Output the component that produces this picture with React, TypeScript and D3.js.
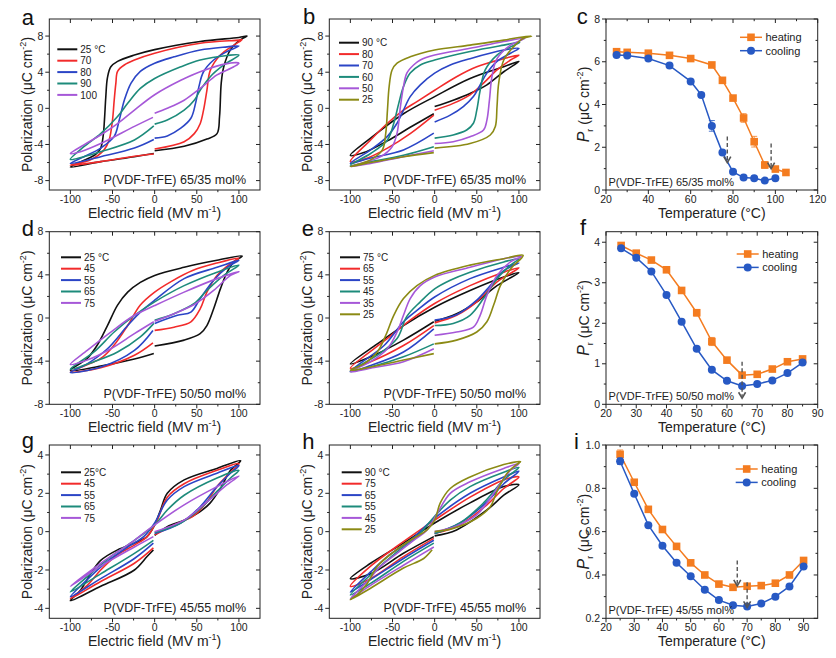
import React, { useEffect, useRef } from 'react';
import * as d3 from 'd3';

type Pt = [number, number];

// ---------------- data ----------------
const loopPalette = ['#111111', '#f22b2b', '#2b45c6', '#1d8b7b', '#a658d8', '#8b8a14'];
const heatColor = '#f47c20';
const coolColor = '#2759c4';

const fieldTicks = [-100, -50, 0, 50, 100];
const fieldMinor = [-75, -25, 25, 75];

// panel a: P(VDF-TrFE) 65/35, heating series
const aLabels = ['25 °C', '70', '80', '90', '100'];
const aLoops: Pt[][] = [
  [[0,-4.7],[35,-4.2],[62,-3.4],[74,-2.8],[77,-0.9],[79,2.8],[82,4.6],[90,6.5],[102,7.6],[109.7,8.0],[100,7.85],[54,7.4],[0,6.5],[-24,5.9],[-44,5.2],[-52,4.6],[-56,3.4],[-58,1.2],[-59.5,-1.2],[-61,-3.0],[-64,-4.4],[-70,-5.1],[-85,-5.8],[-100,-6.5],[-64,-5.9],[-24,-5.35],[-1,-5.0]],
  [[0,-4.5],[35,-3.7],[47,-2.8],[54,-1.7],[58,-0.2],[62,2.0],[66,4.2],[78,5.9],[94,7.0],[103.7,7.6],[100,7.55],[54,7.2],[0,6.1],[-24,5.35],[-36,4.8],[-44,4.1],[-46,2.8],[-48,0.9],[-50,-1.3],[-54,-3.5],[-60,-4.6],[-76,-5.7],[-100,-6.3],[-64,-5.9],[-24,-5.3],[-1,-5.05]],
  [[0,-3.3],[15,-3.05],[31,-2.2],[43,-1.1],[48.5,0.55],[52.5,2.4],[58,4.05],[70,5.35],[86,6.3],[100,6.9],[86,6.8],[54,6.45],[23,5.7],[0,5.0],[-17,4.1],[-28,2.8],[-36,0.9],[-42,-1.3],[-48,-3.1],[-64,-4.4],[-84,-5.35],[-100,-6.1],[-64,-5.35],[-24,-4.4],[-1,-3.45]],
  [[0,-1.75],[15,-1.3],[35,-0.2],[47,0.9],[54,2.0],[66,3.5],[82,4.8],[100,5.9],[86,5.85],[54,5.35],[31,4.6],[0,3.3],[-17,2.2],[-32,0.55],[-44,-0.9],[-64,-2.8],[-84,-4.25],[-100,-5.65],[-84,-5.35],[-64,-4.8],[-24,-3.5],[-1,-1.95]],
  [[0,-0.55],[15,0],[35,0.9],[54,2.2],[74,3.7],[94,4.6],[100,5.0],[86,4.95],[54,4.05],[31,3.1],[0,1.5],[-24,-0.2],[-44,-1.7],[-64,-2.95],[-84,-4.05],[-100,-5.0],[-88,-4.8],[-64,-3.9],[-24,-2.0],[-2,-1.0]],
];

// panel b: 65/35, cooling series
const bLabels = ['90 °C', '80', '70', '60', '50', '25'];
const bLoops: Pt[][] = [
  [[0,0.2],[22,0.9],[42,1.65],[62,2.6],[82,4.05],[100,5.2],[82,4.6],[42,3.3],[0,1.3],[-37,-0.6],[-76,-3.3],[-100,-5.2],[-84,-4.9],[-56,-3.6],[-29,-2.1],[-1,-0.6]],
  [[0,-0.2],[22,0.55],[42,1.5],[58,2.8],[74,4.25],[90,5.35],[100,5.9],[82,5.5],[50,4.6],[26,3.5],[0,2.0],[-21,0.75],[-37,-0.2],[-56,-1.65],[-76,-3.5],[-100,-5.9],[-84,-5.65],[-56,-4.4],[-29,-2.8],[-1,-0.75]],
  [[0,-1.5],[18.5,-0.75],[34,0.2],[46,1.3],[54,2.6],[62,3.9],[74,5.2],[90,6.1],[100,6.65],[82,6.45],[42,5.5],[18.5,4.8],[0,3.9],[-17,2.6],[-29,1.3],[-37,-0.2],[-44.6,-1.65],[-56,-3.1],[-76,-4.6],[-100,-6.1],[-76,-5.5],[-37,-4.6],[-1,-2.75]],
  [[0,-3.3],[22,-2.95],[38,-2.4],[46,-1.65],[50,-0.2],[54,2.0],[60,4.25],[74,5.9],[90,6.8],[101,7.3],[82,7.0],[42,6.3],[0,5.35],[-17,4.8],[-29,3.9],[-37,2.4],[-42.6,0.55],[-48.5,-1.65],[-56,-3.5],[-76,-5.0],[-100,-6.3],[-76,-5.9],[-37,-5.2],[-1,-4.25]],
  [[0,-3.9],[22,-3.7],[42,-3.15],[58,-2.4],[62,-1.3],[65,0.9],[68,3.5],[74,5.5],[90,7.0],[107,7.75],[82,7.4],[42,6.65],[0,5.9],[-17,5.35],[-25,4.8],[-33,3.9],[-37,2.4],[-40.6,0.2],[-44.6,-2.75],[-50.5,-4.25],[-64,-5.35],[-100,-6.45],[-76,-6.1],[-37,-5.35],[-1,-4.7]],
  [[0,-4.4],[42,-3.9],[66,-2.95],[72,-2.0],[74,0.2],[76,2.8],[82,5.35],[93.5,6.8],[105,7.75],[115,8.0],[100,7.85],[82,7.55],[42,7.0],[0,6.45],[-29,5.7],[-44.6,5.0],[-50.5,4.25],[-54,2.4],[-56,-0.2],[-58,-2.75],[-62,-4.6],[-76,-5.7],[-100,-6.45],[-76,-6.0],[-37,-5.35],[-1,-4.9]],
];

// panel d: 50/50, heating
const dLabels = ['25 °C', '45', '55', '65', '75'];
const dLoops: Pt[][] = [
  [[0,-2.6],[35,-2.05],[54,-1.45],[62,-0.7],[70,0.85],[78,2.7],[86,4.25],[94,5.2],[104,5.75],[74,5.35],[35,4.7],[0,3.95],[-17,3.3],[-32,2.4],[-44,1.2],[-56,-0.7],[-68,-2.5],[-80,-3.75],[-100,-4.85],[-64,-4.45],[-24,-3.8],[-1,-3.3]],
  [[0,-1.15],[23,-0.85],[43,-0.35],[54,0.85],[62,2.4],[74,3.95],[90,5.05],[100,5.55],[74,5.1],[45,4.4],[20,3.4],[0,2.4],[-17,1.2],[-32,-0.7],[-48,-2.5],[-64,-3.75],[-100,-5.0],[-64,-4.6],[-24,-3.45],[-2,-2.3]],
  [[0,-0.5],[27,0.25],[43,0.55],[54,1.8],[70,3.5],[86,4.7],[100,5.35],[74,4.7],[35,3.65],[0,1.65],[-17,0.55],[-32,-0.7],[-56,-2.85],[-80,-4.25],[-100,-5.05],[-64,-4.55],[-24,-3.0],[-2,-1.15]],
  [[0,-0.2],[23,0.4],[47,1.35],[62,2.55],[82,3.95],[100,4.9],[74,4.25],[35,3.0],[0,1.5],[-24,0.25],[-48,-1.3],[-72,-3.15],[-100,-4.75],[-72,-4.05],[-44,-3.15],[-17,-1.75],[-1,-0.5]],
  [[0,-0.3],[23,0.4],[47,1.25],[70,2.55],[90,3.95],[100,4.3],[74,3.65],[35,2.4],[0,1.15],[-24,0.25],[-52,-1.3],[-80,-3.0],[-100,-4.3],[-80,-3.9],[-52,-2.85],[-24,-1.45],[-1,-0.35]],
];

// panel e: 50/50, cooling
const eLabels = ['75 °C', '65', '55', '45', '35', '25'];
const eLoops: Pt[][] = [
  [[0,-0.3],[26,0.4],[50,1.5],[74,3.0],[100,4.2],[82,3.8],[42,2.55],[0,1.0],[-37,-0.7],[-68,-2.4],[-100,-4.25],[-76,-3.6],[-37,-2.05],[-1,-0.35]],
  [[0,-0.45],[26,0.25],[50,1.5],[74,3.35],[100,4.65],[82,4.25],[42,3.0],[0,1.35],[-29,-0.2],[-56,-1.9],[-100,-4.65],[-76,-4.05],[-37,-2.55],[-1,-0.7]],
  [[0,-0.2],[26,0.3],[50,1.65],[66,3.0],[82,4.4],[100,5.1],[82,4.7],[42,3.65],[0,1.95],[-21,0.7],[-37,-0.35],[-60,-2.55],[-100,-4.95],[-76,-4.4],[-37,-3.15],[-1,-1.0]],
  [[0,-0.7],[22,-0.5],[42,0.25],[58,1.8],[74,3.65],[90,4.9],[100,5.5],[82,5.2],[42,4.25],[18.5,3.5],[0,2.7],[-17,1.5],[-33,0.15],[-44.6,-1.9],[-68,-3.45],[-100,-4.95],[-76,-4.55],[-37,-3.6],[-1,-2.4]],
  [[0,-1.6],[26,-1.3],[46,-0.85],[54,0.25],[62,2.1],[74,3.95],[90,5.2],[103,5.7],[82,5.5],[42,4.7],[0,3.8],[-17,3.0],[-29,1.8],[-37,0.25],[-44.6,-1.3],[-56,-2.85],[-76,-4.05],[-100,-5.0],[-76,-4.65],[-37,-4.05],[-1,-2.85]],
  [[0,-2.4],[26,-2.05],[50,-1.3],[62,-0.35],[70,1.2],[78,3.0],[90,4.55],[105,5.8],[82,5.5],[42,4.9],[0,3.95],[-21,3.0],[-37,1.8],[-48.5,0.25],[-58,-1.6],[-68,-3.15],[-84,-4.25],[-100,-4.85],[-76,-4.55],[-37,-3.9],[-1,-3.3]],
];

// panel g: 45/55, heating
const gLabels = ['25°C', '45', '55', '65', '75'];
const gLoops: Pt[][] = [
  [[0,-0.2],[15,0.26],[35,0.6],[54,1.05],[66,1.5],[78,2.25],[90,3.2],[102,3.7],[74,3.3],[35,2.7],[15,2.0],[7,1.13],[0,0.35],[-9,-0.26],[-24,-0.6],[-44,-0.95],[-64,-1.5],[-76,-2.2],[-88,-3.05],[-100,-3.6],[-64,-2.85],[-24,-2.0],[-9,-1.3],[-1.5,-0.95]],
  [[0,-0.17],[23,0.35],[47,0.85],[62,1.55],[74,2.35],[90,3.1],[100,3.55],[74,3.2],[35,2.5],[15,1.8],[3,0.6],[-9,-0.26],[-24,-0.7],[-44,-1.2],[-64,-2.0],[-80,-2.8],[-100,-3.5],[-64,-2.6],[-24,-1.65],[-1.5,-0.85]],
  [[0,-0.1],[31,0.45],[54,1.3],[74,2.35],[90,3.05],[100,3.45],[74,3.05],[35,2.35],[15,1.65],[0,0.45],[-13,-0.26],[-32,-0.8],[-56,-1.55],[-80,-2.5],[-100,-3.4],[-64,-2.45],[-24,-1.4],[-1.5,-0.6]],
  [[0,-0.05],[31,0.45],[54,1.2],[74,2.1],[90,2.8],[100,3.2],[74,2.8],[35,1.9],[15,1.13],[0,0.35],[-24,-0.45],[-52,-1.3],[-80,-2.35],[-100,-3.15],[-64,-2.2],[-24,-1.13],[-1.5,-0.45]],
  [[0,0],[35,0.6],[62,1.55],[86,2.45],[100,2.9],[74,2.35],[35,1.4],[0,0.35],[-24,-0.45],[-64,-1.65],[-100,-2.85],[-64,-1.8],[-24,-0.8],[-1.5,-0.26]],
];

// panel h: 45/55, cooling
const hLabels = ['90 °C', '75', '65', '55', '45', '25'];
const hLoops: Pt[][] = [
  [[0,-0.22],[26,0.09],[62,1.13],[82,1.9],[100,2.45],[82,2.35],[42,1.5],[0,0.45],[-37,-0.6],[-76,-1.65],[-100,-2.45],[-76,-2.2],[-37,-1.13],[-1,-0.26]],
  [[0,-0.1],[30,0.35],[62,1.4],[82,2.25],[100,2.85],[82,2.7],[42,1.8],[0,0.6],[-37,-0.52],[-76,-1.8],[-100,-2.85],[-76,-2.45],[-37,-1.3],[-1,-0.35]],
  [[0,-0.1],[30,0.45],[62,1.55],[82,2.5],[100,3.15],[82,2.85],[42,2.0],[0,0.7],[-29,-0.45],[-56,-1.3],[-76,-2.1],[-100,-3.15],[-76,-2.5],[-37,-1.4],[-1,-0.45]],
  [[0,-0.1],[30,0.45],[58,1.5],[82,2.7],[100,3.35],[82,3.1],[42,2.35],[18.5,1.65],[0,0.8],[-21,-0.26],[-44.6,-1.05],[-76,-2.25],[-100,-3.3],[-76,-2.7],[-37,-1.55],[-1,-0.6]],
  [[0,0],[26,0.3],[50,0.87],[62,1.5],[78,2.5],[90,3.2],[100,3.55],[82,3.3],[42,2.6],[18.5,2.0],[3,0.95],[-9,0.09],[-25,-0.45],[-44.6,-1.13],[-64,-1.8],[-80,-2.6],[-100,-3.5],[-76,-2.8],[-37,-1.75],[-1,-0.8]],
  [[0,0],[22,0.17],[50,0.7],[66,1.3],[74,2.1],[86,3.05],[97,3.5],[102,3.65],[82,3.5],[42,2.85],[18.5,2.25],[6.7,1.5],[0,0.6],[-9,0.09],[-29,-0.45],[-48.5,-1.05],[-68,-1.8],[-80,-2.7],[-92,-3.3],[-100,-3.55],[-76,-2.95],[-37,-1.9],[-13,-1.4],[-3,-0.95]],
];

// panel c: Pr vs T, 65/35
const cHeatT = [25, 30, 40, 50, 60, 70, 75, 80, 85, 90, 95, 100, 105];
const cHeatP = [6.47, 6.44, 6.4, 6.3, 6.15, 5.85, 5.13, 4.3, 3.37, 2.26, 1.17, 0.98, 0.82];
const cHeatErr = [0.06, 0.05, 0.05, 0.05, 0.06, 0.1, 0.08, 0.08, 0.2, 0.25, 0.15, 0.05, 0.05];
const cCoolT = [25, 30, 40, 50, 60, 65, 70, 75, 80, 85, 90, 95, 100];
const cCoolP = [6.32, 6.29, 6.15, 5.82, 5.08, 4.45, 3.0, 1.75, 0.85, 0.58, 0.55, 0.44, 0.55];
const cCoolErr = [0.05, 0.05, 0.06, 0.05, 0.06, 0.1, 0.25, 0.06, 0.05, 0.05, 0.05, 0.05, 0.05];
const cArrows = [[77.3, 2.5, 1.28], [98, 2.18, 1.0]];

// panel f: 50/50
const fT = [25, 30, 35, 40, 45, 50, 55, 60, 65, 70, 75, 80, 85];
const fHeatP = [3.92, 3.73, 3.56, 3.32, 2.81, 2.26, 1.55, 1.09, 0.72, 0.74, 0.87, 1.05, 1.12];
const fHeatErr = [0.04, 0.03, 0.03, 0.03, 0.04, 0.08, 0.1, 0.04, 0.04, 0.03, 0.03, 0.03, 0.03];
const fCoolP = [3.85, 3.62, 3.28, 2.7, 2.04, 1.37, 0.85, 0.58, 0.45, 0.5, 0.59, 0.77, 1.03];
const fCoolErr = [0.03, 0.03, 0.03, 0.03, 0.03, 0.03, 0.03, 0.03, 0.03, 0.03, 0.03, 0.03, 0.03];
const fArrows = [[65, 1.05, 0.15]];

// panel i: 45/55
const iT = [25, 30, 35, 40, 45, 50, 55, 60, 65, 70, 75, 80, 85, 90];
const iHeatP = [0.957, 0.828, 0.703, 0.61, 0.532, 0.456, 0.4, 0.358, 0.343, 0.348, 0.351, 0.362, 0.4, 0.467];
const iHeatErr = [0.02, 0.008, 0.008, 0.006, 0.006, 0.006, 0.008, 0.006, 0.006, 0.006, 0.006, 0.006, 0.006, 0.008];
const iCoolP = [0.925, 0.775, 0.63, 0.535, 0.456, 0.394, 0.332, 0.284, 0.26, 0.254, 0.268, 0.3, 0.347, 0.439];
const iCoolErr = [0.015, 0.006, 0.006, 0.006, 0.006, 0.006, 0.006, 0.008, 0.006, 0.006, 0.006, 0.006, 0.006, 0.008];
const iArrows = [[66.5, 0.467, 0.35], [70, 0.366, 0.25]];

// ---------------- layout ----------------
const FONT = '"Liberation Sans", Arial, Helvetica, sans-serif';
const ROWS = [[19, 190], [231.7, 404.3], [445, 618.3]];
const COLS = [[49.3, 260], [329.3, 540], [606, 817.7]];
const INK = '#222';

type Sel = d3.Selection<any, unknown, null, undefined>;

function drawAxes(g: Sel, xs: any, ys: any, xT: number[], xM: number[], yT: number[], yM: number[], yFmt: (v: number) => string) {
  const [L, R] = xs.range();
  const [B, T] = ys.range();
  const ln = (x1: number, y1: number, x2: number, y2: number) =>
    g.append('line').attr('x1', x1).attr('y1', y1).attr('x2', x2).attr('y2', y2).attr('stroke', INK).attr('stroke-width', 1);
  const maj = 4, mnr = 2.2;
  xT.forEach(v => {
    const X = xs(v);
    ln(X, B, X, B + maj); ln(X, T, X, T + maj);
    g.append('text').attr('x', X).attr('y', B + 13).attr('text-anchor', 'middle').attr('font-size', 10.5).attr('fill', INK).text(String(v));
  });
  xM.forEach(v => { const X = xs(v); ln(X, B, X, B + mnr); ln(X, T, X, T + mnr); });
  yT.forEach(v => {
    const Y = ys(v);
    ln(L - maj, Y, L, Y); ln(R, Y, R - maj, Y);
    g.append('text').attr('x', L - 6).attr('y', Y + 3.7).attr('text-anchor', 'end').attr('font-size', 10.5).attr('fill', INK).text(yFmt(v));
  });
  yM.forEach(v => { const Y = ys(v); ln(L - mnr, Y, L, Y); ln(R, Y, R - mnr, Y); });
  g.append('rect').attr('x', L).attr('y', T).attr('width', R - L).attr('height', B - T)
    .attr('fill', 'none').attr('stroke', INK).attr('stroke-width', 1);
}

function supTitle(t: Sel, pre: string, sup: string) {
  t.append('tspan').text(pre);
  t.append('tspan').attr('font-size', 9).attr('dy', -6).text(sup);
  t.append('tspan').attr('dy', 6).text(')');
}

interface LoopPanel {
  col: number; row: number; letter: string; letterPos: [number, number];
  yDomain: [number, number]; yTicks: number[]; yMinor: number[];
  labels: string[]; loops: Pt[][]; legX: number; legY: number; note: string;
}

const loopPanels: LoopPanel[] = [
  { col: 0, row: 0, letter: 'a', letterPos: [21.7, 25], yDomain: [-9.04, 9.89], yTicks: [-8, -4, 0, 4, 8], yMinor: [-6, -2, 2, 6], labels: aLabels, loops: aLoops, legX: 8, legY: 30.3, note: 'P(VDF-TrFE) 65/35 mol%' },
  { col: 1, row: 0, letter: 'b', letterPos: [303, 24], yDomain: [-9.04, 9.89], yTicks: [-8, -4, 0, 4, 8], yMinor: [-6, -2, 2, 6], labels: bLabels, loops: bLoops, legX: 9.7, legY: 23.7, note: 'P(VDF-TrFE) 65/35 mol%' },
  { col: 0, row: 1, letter: 'd', letterPos: [21.7, 235.7], yDomain: [-8, 8], yTicks: [-8, -4, 0, 4, 8], yMinor: [-6, -2, 2, 6], labels: dLabels, loops: dLoops, legX: 11.7, legY: 25.6, note: 'P(VDF-TrFE) 50/50 mol%' },
  { col: 1, row: 1, letter: 'e', letterPos: [301.7, 235.7], yDomain: [-8, 8], yTicks: [-8, -4, 0, 4, 8], yMinor: [-6, -2, 2, 6], labels: eLabels, loops: eLoops, legX: 10.7, legY: 25.6, note: 'P(VDF-TrFE) 50/50 mol%' },
  { col: 0, row: 2, letter: 'g', letterPos: [21.7, 448.3], yDomain: [-4.52, 4.52], yTicks: [-4, -2, 0, 2, 4], yMinor: [-3, -1, 1, 3], labels: gLabels, loops: gLoops, legX: 11.7, legY: 27.3, note: 'P(VDF-TrFE) 45/55 mol%' },
  { col: 1, row: 2, letter: 'h', letterPos: [302.3, 449], yDomain: [-4.52, 4.52], yTicks: [-4, -2, 0, 2, 4], yMinor: [-3, -1, 1, 3], labels: hLabels, loops: hLoops, legX: 12.4, legY: 27.3, note: 'P(VDF-TrFE) 45/55 mol%' },
];

interface TempPanel {
  col: number; row: number; letter: string; letterPos: [number, number];
  xDomain: [number, number]; xTicks: number[]; xMinor: number[];
  yDomain: [number, number]; yTicks: number[]; yMinor: number[]; yFmt: (v: number) => string;
  heatT: number[]; heatP: number[]; heatE: number[]; coolT: number[]; coolP: number[]; coolE: number[];
  arrows: number[][]; legDX: number; legDY: number; note: string;
}

const tempPanels: TempPanel[] = [
  { col: 2, row: 0, letter: 'c', letterPos: [576.7, 23.5], xDomain: [20, 120], xTicks: [20, 40, 60, 80, 100, 120], xMinor: [30, 50, 70, 90, 110],
    yDomain: [0, 8], yTicks: [0, 2, 4, 6, 8], yMinor: [1, 3, 5, 7], yFmt: v => String(v),
    heatT: cHeatT, heatP: cHeatP, heatE: cHeatErr, coolT: cCoolT, coolP: cCoolP, coolE: cCoolErr, arrows: cArrows, legDX: 77.7, legDY: 18.3, note: 'P(VDF-TrFE) 65/35 mol%' },
  { col: 2, row: 1, letter: 'f', letterPos: [580, 234.5], xDomain: [20, 90], xTicks: [20, 30, 40, 50, 60, 70, 80, 90], xMinor: [25, 35, 45, 55, 65, 75, 85],
    yDomain: [0, 4.26], yTicks: [0, 1, 2, 3, 4], yMinor: [0.5, 1.5, 2.5, 3.5], yFmt: v => String(v),
    heatT: fT, heatP: fHeatP, heatE: fHeatErr, coolT: fT, coolP: fCoolP, coolE: fCoolErr, arrows: fArrows, legDX: 81, legDY: 22.3, note: 'P(VDF-TrFE) 50/50 mol%' },
  { col: 2, row: 2, letter: 'i', letterPos: [574, 449], xDomain: [20, 95], xTicks: [20, 30, 40, 50, 60, 70, 80, 90], xMinor: [25, 35, 45, 55, 65, 75, 85],
    yDomain: [0.2, 1.0], yTicks: [0.2, 0.4, 0.6, 0.8, 1.0], yMinor: [0.3, 0.5, 0.7, 0.9], yFmt: v => v.toFixed(1),
    heatT: iT, heatP: iHeatP, heatE: iHeatErr, coolT: iT, coolP: iCoolP, coolE: iCoolErr, arrows: iArrows, legDX: 82, legDY: 24, note: 'P(VDF-TrFE) 45/55 mol%' },
];

function drawLoopPanel(svg: Sel, p: LoopPanel) {
  const [L, R] = COLS[p.col];
  const [T, B] = ROWS[p.row];
  const xs = d3.scaleLinear().domain([-125, 125]).range([L, R]);
  const ys = d3.scaleLinear().domain(p.yDomain).range([B, T]);
  const g = svg.append('g').style('font-family', FONT);
  const line = d3.line<Pt>().x(d => xs(d[0])).y(d => ys(d[1])).curve(d3.curveCatmullRom.alpha(0.5));
  p.loops.forEach((pts, i) => {
    g.append('path').attr('d', line(pts) as string).attr('fill', 'none')
      .attr('stroke', loopPalette[i]).attr('stroke-width', 1.6).attr('stroke-linejoin', 'round');
  });
  drawAxes(g, xs, ys, fieldTicks, fieldMinor, p.yTicks, p.yMinor, v => String(v));
  // legend
  p.labels.forEach((lab, i) => {
    const y = T + p.legY + i * 11.4;
    g.append('line').attr('x1', L + p.legX).attr('x2', L + p.legX + 20).attr('y1', y).attr('y2', y)
      .attr('stroke', loopPalette[i]).attr('stroke-width', 2);
    g.append('text').attr('x', L + p.legX + 23).attr('y', y + 3.6).attr('font-size', 10).attr('fill', INK).text(lab);
  });
  g.append('text').attr('x', R - 14).attr('y', B - 6.5).attr('text-anchor', 'end').attr('font-size', 12.5).attr('fill', INK).text(p.note);
  // titles
  const xt = g.append('text').attr('x', (L + R) / 2).attr('y', B + 28).attr('text-anchor', 'middle').attr('font-size', 14).attr('fill', INK);
  supTitle(xt, 'Electric field (MV m', '-1');
  const yt = g.append('text').attr('transform', `translate(${L - 17},${(T + B) / 2}) rotate(-90)`)
    .attr('text-anchor', 'middle').attr('font-size', 14).attr('fill', INK);
  supTitle(yt, 'Polarization (μC cm', '-2');
  g.append('text').attr('x', p.letterPos[0]).attr('y', p.letterPos[1]).attr('font-size', 22).attr('fill', '#111').text(p.letter);
}

function drawTempPanel(svg: Sel, p: TempPanel) {
  const [L, R] = COLS[p.col];
  const [T, B] = ROWS[p.row];
  const xs = d3.scaleLinear().domain(p.xDomain).range([L, R]);
  const ys = d3.scaleLinear().domain(p.yDomain).range([B, T]);
  const g = svg.append('g').style('font-family', FONT);
  drawAxes(g, xs, ys, p.xTicks, p.xMinor, p.yTicks, p.yMinor, p.yFmt);

  const series = [
    { t: p.heatT, v: p.heatP, e: p.heatE, c: heatColor, sq: true },
    { t: p.coolT, v: p.coolP, e: p.coolE, c: coolColor, sq: false },
  ];
  series.forEach(s => {
    const pts: Pt[] = s.t.map((t, i) => [t, s.v[i]]);
    const line = d3.line<Pt>().x(d => xs(d[0])).y(d => ys(d[1]));
    g.append('path').attr('d', line(pts) as string).attr('fill', 'none').attr('stroke', s.c).attr('stroke-width', 1.5);
    pts.forEach((d, i) => {
      const X = xs(d[0]);
      const y1 = ys(d[1] - s.e[i]), y2 = ys(d[1] + s.e[i]);
      g.append('line').attr('x1', X).attr('x2', X).attr('y1', y1).attr('y2', y2).attr('stroke', s.c).attr('stroke-width', 1).attr('opacity', 0.8);
      [y1, y2].forEach(yy => g.append('line').attr('x1', X - 3).attr('x2', X + 3).attr('y1', yy).attr('y2', yy).attr('stroke', s.c).attr('stroke-width', 1).attr('opacity', 0.8));
    });
    pts.forEach(d => {
      const X = xs(d[0]), Y = ys(d[1]);
      if (s.sq) g.append('rect').attr('x', X - 3.8).attr('y', Y - 3.8).attr('width', 7.6).attr('height', 7.6).attr('fill', s.c);
      else g.append('circle').attr('cx', X).attr('cy', Y).attr('r', 4).attr('fill', s.c);
    });
  });

  // arrows
  p.arrows.forEach(a => {
    const X = xs(a[0]), y1 = ys(a[1]), y2 = ys(a[2]);
    g.append('line').attr('x1', X).attr('x2', X).attr('y1', y1).attr('y2', y2 - 2)
      .attr('stroke', '#555').attr('stroke-width', 1.4).attr('stroke-dasharray', '4,2.5');
    g.append('path').attr('d', `M${X - 3.5},${y2 - 6} L${X},${y2} L${X + 3.5},${y2 - 6}`)
      .attr('fill', 'none').attr('stroke', '#555').attr('stroke-width', 1.6);
  });

  // legend
  const lx1 = R - p.legDX, lx2 = lx1 + 22;
  [['heating', heatColor, true], ['cooling', coolColor, false]].forEach((it, i) => {
    const y = T + p.legDY + i * 13.4;
    const c = it[1] as string;
    g.append('line').attr('x1', lx1).attr('x2', lx2).attr('y1', y).attr('y2', y).attr('stroke', c).attr('stroke-width', 1.5);
    const mx = (lx1 + lx2) / 2;
    if (it[2]) g.append('rect').attr('x', mx - 3.8).attr('y', y - 3.8).attr('width', 7.6).attr('height', 7.6).attr('fill', c);
    else g.append('circle').attr('cx', mx).attr('cy', y).attr('r', 4).attr('fill', c);
    g.append('text').attr('x', lx2 + 3.5).attr('y', y + 3.8).attr('font-size', 11).attr('fill', INK).text(it[0] as string);
  });

  g.append('text').attr('x', L + 2.5).attr('y', B - 4.5).attr('font-size', 11).attr('fill', INK).text(p.note);

  const xt = g.append('text').attr('x', (L + R) / 2).attr('y', B + 28).attr('text-anchor', 'middle').attr('font-size', 14).attr('fill', INK);
  xt.text('Temperature (°C)');
  const yt = g.append('text').attr('transform', `translate(${L - 17},${(T + B) / 2}) rotate(-90)`)
    .attr('text-anchor', 'middle').attr('font-size', 14).attr('fill', INK);
  yt.append('tspan').attr('font-style', 'italic').attr('font-size', 16).text('P');
  yt.append('tspan').attr('font-size', 9).attr('dy', 4).text('r');
  yt.append('tspan').attr('dy', -4).text(' (μC cm');
  yt.append('tspan').attr('font-size', 9).attr('dy', -6).text('-2');
  yt.append('tspan').attr('dy', 6).text(')');
  g.append('text').attr('x', p.letterPos[0]).attr('y', p.letterPos[1]).attr('font-size', 22).attr('fill', '#111').text(p.letter);
}

export default function App() {
  const ref = useRef<SVGSVGElement>(null);
  useEffect(() => {
    const svg = d3.select(ref.current) as unknown as Sel;
    svg.selectAll('*').remove();
    svg.append('rect').attr('width', 836).attr('height', 658).attr('fill', '#fff');
    loopPanels.forEach(p => drawLoopPanel(svg, p));
    tempPanels.forEach(p => drawTempPanel(svg, p));
  }, []);
  return (
    <svg ref={ref} width={836} height={658} style={{ position: 'absolute', left: 0, top: 0 }} />
  );
}
